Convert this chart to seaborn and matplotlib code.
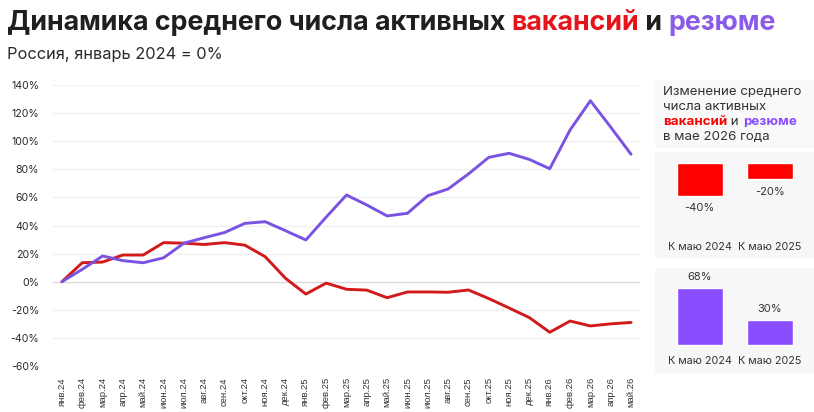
import numpy as np
import pandas as pd
import matplotlib
matplotlib.use("Agg")
import matplotlib.pyplot as plt
import seaborn as sns

# ---------------- data ----------------
months = ["янв.24", "фев.24", "мар.24", "апр.24", "май.24", "июн.24", "июл.24",
          "авг.24", "сен.24", "окт.24", "ноя.24", "дек.24", "янв.25", "фев.25",
          "мар.25", "апр.25", "май.25", "июн.25", "июл.25", "авг.25", "сен.25",
          "окт.25", "ноя.25", "дек.25", "янв.26", "фев.26", "мар.26", "апр.26",
          "май.26"]
vacancies = [0, 13.5, 14, 19, 19, 27.8, 27.4, 26.5, 27.8, 26, 17.8, 2.4, -8.8,
             -1, -5.4, -6, -11.4, -7.3, -7.3, -7.5, -5.9, -12, -18.7, -25.6,
             -36, -28, -31.5, -30, -29]
resumes = [0, 8.8, 18.3, 15, 13.5, 17, 27.4, 31.3, 35, 41.5, 42.7, 36.3, 29.7,
           46, 61.7, 54.6, 46.8, 48.7, 61.2, 66, 76.7, 88.5, 91.4, 87, 80.4,
           108, 128.8, 110, 90.7]
yticks = [-60, -40, -20, 0, 20, 40, 60, 80, 100, 120, 140]

bar_categories = ["К маю 2024", "К маю 2025"]
vac_change = [-40, -20]
res_change = [68, 30]

RED_LINE = "#d21a1a"
PUR_LINE = "#7b53e2"
RED_BAR = "#ff0000"
PUR_BAR = "#8a4dff"
TITLE_RED = "#e5141b"
TITLE_PUR = "#8a5ae8"
DARK = "#1f1f1f"

sns.set_theme(style="white")
plt.rcParams["font.family"] = ["Inter", "DejaVu Sans"]

W, H = 814, 412
fig = plt.figure(figsize=(W / 100, H / 100), dpi=100)
fig.patch.set_facecolor("white")


def fx(px):
    return px / W


def fy(py):
    return 1 - py / H


# ---------------- main line chart ----------------
ax = fig.add_axes([fx(53), fy(366), fx(640 - 53), (366 - 85) / H])
df = pd.DataFrame({
    "idx": list(range(len(months))) * 2,
    "val": vacancies + resumes,
    "series": ["вакансии"] * len(months) + ["резюме"] * len(months),
})
sns.lineplot(data=df, x="idx", y="val", hue="series",
             palette={"вакансии": RED_LINE, "резюме": PUR_LINE},
             linewidth=2.1, ax=ax, legend=False, zorder=3)
ax.set_xlim(-0.44, len(months) - 1 + 0.44)
ax.set_ylim(-60, 140)
ax.set_yticks(yticks)
ax.set_yticklabels([f"{v}%" for v in yticks], fontsize=7.6, color="#2a2a2a")
ax.set_xticks(range(len(months)))
ax.set_xticklabels(months, rotation=90, fontsize=6.8, color="#333333",
                   family=["Liberation Sans", "DejaVu Sans"])
ax.tick_params(axis="y", length=0, pad=10)
ax.tick_params(axis="x", length=0, pad=8)
ax.set_xlabel("")
ax.set_ylabel("")
for s in ax.spines.values():
    s.set_visible(False)
for v in yticks:
    ax.axhline(v, color="#d9d9d9" if v == 0 else "#f0f0f0",
               linewidth=1.0, zorder=1)

# ---------------- title ----------------
def draw_pieces(pieces, x0, y0, size):
    renderer = fig.canvas.get_renderer()
    x = x0
    for txt, color, weight in pieces:
        t = fig.text(fx(x), fy(y0), txt, color=color, fontsize=size,
                     fontweight=weight, va="baseline", ha="left")
        bb = t.get_window_extent(renderer=renderer)
        x += bb.width
    return x


draw_pieces([("Динамика среднего числа активных ", DARK, "bold"),
             ("вакансий", TITLE_RED, "bold"),
             (" и ", DARK, "bold"),
             ("резюме", TITLE_PUR, "bold")], 7, 30, 19.3)
fig.text(fx(7), fy(59), "Россия, январь 2024 = 0%", fontsize=11.8,
         color="#2a2a2a", va="baseline", ha="left")

# ---------------- right panel ----------------
hdr = fig.add_axes([fx(655), fy(148), fx(814 - 655), (148 - 80) / H])
hdr.set_facecolor("#f9f9f9")
hdr.set_xticks([]); hdr.set_yticks([])
for s in hdr.spines.values():
    s.set_visible(False)

hsize = 9.6
fig.text(fx(663), fy(95), "Изменение среднего", fontsize=hsize, color="#333333")
fig.text(fx(663), fy(110), "числа активных", fontsize=hsize, color="#333333")
draw_pieces([("вакансий", RED_BAR, "bold"), (" и ", "#333333", "normal"),
             ("резюме", PUR_BAR, "bold")], 663, 125, hsize)
fig.text(fx(663), fy(140), "в мае 2026 года", fontsize=hsize, color="#333333")


def bar_panel(top, bottom, base, scale, values, color, label_y):
    pax = fig.add_axes([fx(655), fy(bottom), fx(814 - 655), (bottom - top) / H])
    pax.set_facecolor("#f7f7f7")
    bdf = pd.DataFrame({"cat": bar_categories, "val": values})
    sns.barplot(data=bdf, x="cat", y="val", color=color, saturation=1,
                width=0.657, ax=pax)
    pax.set_ylim(-(bottom - base) / scale, (base - top) / scale)
    pax.set_xlim(-0.639, 1.633)
    pax.set_xticks([]); pax.set_yticks([])
    pax.set_xlabel(""); pax.set_ylabel("")
    for s in pax.spines.values():
        s.set_visible(False)
    for i, v in enumerate(values):
        off = -9 if v < 0 else 7.5
        pax.annotate(f"{v}%", (i, v), xytext=(0, off), textcoords="offset points",
                     ha="center", va="center", fontsize=8, color="#333333")
    for i, c in enumerate(bar_categories):
        x_pix = 699.7 + 70 * i
        fig.text(fx(x_pix), fy(label_y), c, ha="center", va="center",
                 fontsize=7.8, color="#333333")
    return pax


bar_panel(152, 258, 162.7, 0.825, vac_change, RED_BAR, 246.7)
bar_panel(268, 373, 345, 0.845, res_change, PUR_BAR, 361)

fig.savefig("out.png", dpi=100, facecolor="white")
